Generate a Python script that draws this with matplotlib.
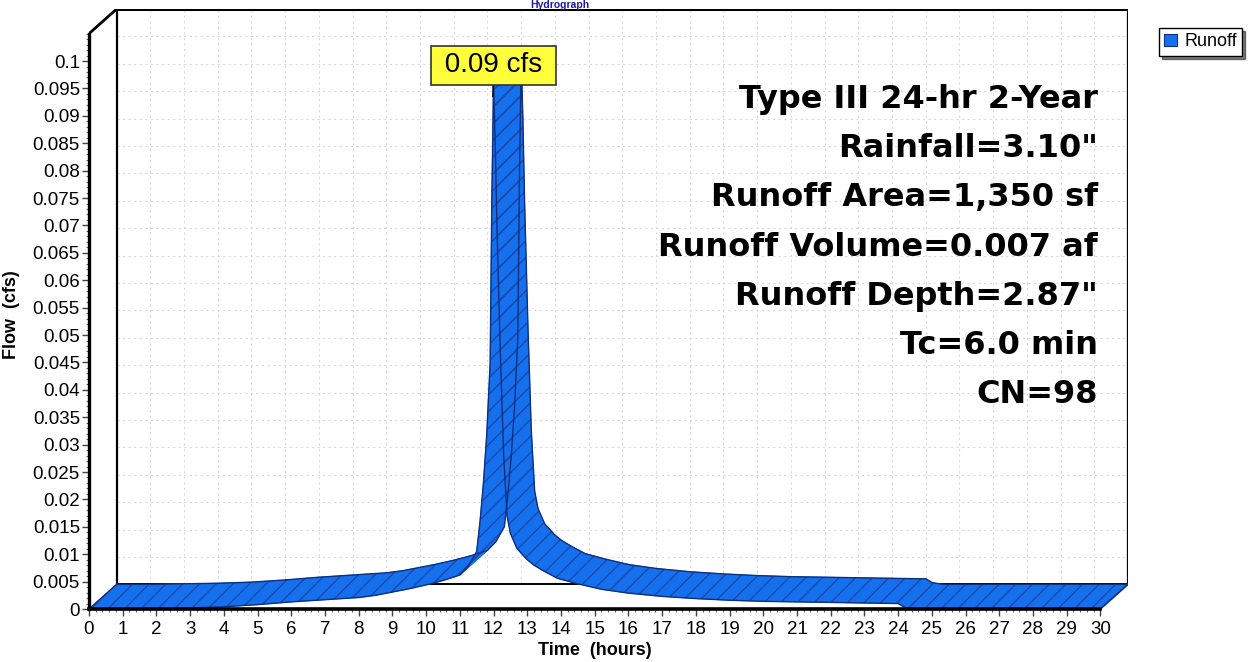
import numpy as np
import matplotlib
matplotlib.use("Agg")
import matplotlib.pyplot as plt
from matplotlib.collections import PolyCollection
from matplotlib.patches import Patch
from matplotlib.ticker import FixedLocator, FixedFormatter

# hydrograph (hours, cfs)
time_hr = [0, 1, 2, 3, 4, 5, 6, 7, 8, 8.5, 9, 9.5, 10, 10.5, 11, 11.25, 11.5,
           11.6, 11.7, 11.8, 11.9, 11.95, 12.0, 12.05, 12.1, 12.2, 12.3, 12.4,
           12.5, 12.7, 13.0, 13.2, 13.5, 13.9, 14.5, 15.2, 16, 17, 18, 19, 20,
           21, 22, 23, 24, 24.2, 24.5, 25, 26, 27, 28, 29, 30]
flow_cfs = [0, 0, 0.0001, 0.0002, 0.0004, 0.0008, 0.0013, 0.0017, 0.0021,
            0.0025, 0.0031, 0.0037, 0.0044, 0.0052, 0.0062, 0.0078, 0.0105,
            0.016, 0.023, 0.032, 0.045, 0.075, 0.096, 0.085, 0.070, 0.047,
            0.028, 0.0170, 0.0138, 0.0110, 0.0090, 0.0080, 0.0069, 0.0056,
            0.0046, 0.0036, 0.0029, 0.0023, 0.0019, 0.0016, 0.0014, 0.0013,
            0.0012, 0.0011, 0.0010, 0.0003, 0, 0, 0, 0, 0, 0, 0]

x_ticks = list(range(0, 31))
y_ticks = [0, 0.005, 0.01, 0.015, 0.02, 0.025, 0.03, 0.035, 0.04, 0.045, 0.05,
           0.055, 0.06, 0.065, 0.07, 0.075, 0.08, 0.085, 0.09, 0.095, 0.1]
y_tick_labels = ["0", "0.005", "0.01", "0.015", "0.02", "0.025", "0.03",
                 "0.035", "0.04", "0.045", "0.05", "0.055", "0.06", "0.065",
                 "0.07", "0.075", "0.08", "0.085", "0.09", "0.095", "0.1"]

peak_label = "0.09 cfs"
peak_time = 12.0
info_lines = ["Type III 24-hr 2-Year", 'Rainfall=3.10"', "Runoff Area=1,350 sf",
              "Runoff Volume=0.007 af", 'Runoff Depth=2.87"', "Tc=6.0 min",
              "CN=98"]

BLUE = "#1570ee"
HATCH = "#1c47a8"
EDGE = "#0e2f80"
DX, DY = 0.82, 0.0045      # fake 3d depth offset
XMAX, YMAX = 30, 0.105

plt.rcParams["hatch.linewidth"] = 1.0

fig = plt.figure(figsize=(12.54, 6.62), dpi=100)
ax = fig.add_axes([89 / 1254, 53 / 662, 1039 / 1254, 600 / 662])
ax.set_xlim(0, XMAX + DX)
ax.set_ylim(0, YMAX + DY)
ax.patch.set_alpha(0)

# back wall + grid
for h in x_ticks[1:]:
    ax.plot([h + DX, h + DX], [DY, YMAX + DY], color="#dadada", lw=0.8,
            ls=(0, (2, 3)), zorder=0.5)
for v in y_ticks[1:]:
    ax.plot([DX, XMAX + DX], [v + DY, v + DY], color="#dadada", lw=0.8,
            ls=(0, (2, 3)), zorder=0.5)
ax.plot([DX, XMAX + DX], [YMAX + DY, YMAX + DY], color="k", lw=2.2, zorder=1.5)
ax.plot([DX, DX], [DY, YMAX + DY], color="k", lw=1.6, zorder=1.5)
ax.plot([XMAX + DX, XMAX + DX], [DY, YMAX + DY], color="k", lw=1.6, zorder=1.5)
ax.plot([DX, XMAX + DX], [DY, DY], color="k", lw=1.4, zorder=1.5)
ax.plot([0, DX], [YMAX, YMAX + DY], color="k", lw=2.0, zorder=1.5)

# ribbon
t = np.array(time_hr)
f = np.array(flow_cfs)
quads = []
for i in range(len(t) - 1):
    quads.append([(t[i], f[i]), (t[i + 1], f[i + 1]),
                  (t[i + 1] + DX, f[i + 1] + DY), (t[i] + DX, f[i] + DY)])
ax.add_collection(PolyCollection(quads, facecolors=BLUE, edgecolors=BLUE,
                                 linewidths=0.6, zorder=2))
ax.add_collection(PolyCollection(quads, facecolors="none", edgecolors=HATCH,
                                 linewidths=0, hatch="//", zorder=2.1))
ax.plot(t, f, color=EDGE, lw=1, zorder=2.2)
ax.plot(t + DX, f + DY, color=EDGE, lw=1, zorder=2.2)
ax.plot([t[0], t[0] + DX], [f[0], f[0] + DY], color=EDGE, lw=1, zorder=2.2)
ax.plot([t[-1], t[-1] + DX], [f[-1], f[-1] + DY], color=EDGE, lw=1.2, zorder=2.2)

# axes
for s in ["top", "right"]:
    ax.spines[s].set_visible(False)
ax.spines["left"].set_bounds(0, YMAX)
ax.spines["bottom"].set_bounds(0, XMAX)
ax.spines["left"].set_linewidth(2.4)
ax.spines["bottom"].set_linewidth(2.6)
ax.xaxis.set_major_locator(FixedLocator(x_ticks))
ax.xaxis.set_minor_locator(FixedLocator(np.arange(0, 30.01, 0.2)))
ax.yaxis.set_major_locator(FixedLocator(y_ticks))
ax.yaxis.set_major_formatter(FixedFormatter(y_tick_labels))
ax.yaxis.set_minor_locator(FixedLocator(np.arange(0, 0.1051, 0.001)))
ax.tick_params(which="major", length=5, width=1, color="#444444", pad=1.5,
               labelsize=13.5)
ax.tick_params(which="minor", length=2.5, width=0.8, color="#666666")
ax.tick_params(axis="x", pad=3.5)
for lab in ax.get_xticklabels() + ax.get_yticklabels():
    lab.set_family("Liberation Sans")

ax.set_xlabel("Time  (hours)", family="Liberation Sans", weight="bold",
              fontsize=13)
ax.set_ylabel("Flow  (cfs)", family="Liberation Sans", weight="bold",
              fontsize=13)
ax.xaxis.set_label_coords(0.487, -0.055)
ax.yaxis.set_label_coords(-0.066, 0.49)

# peak callout
ax.annotate(" " + peak_label + " ", xy=(peak_time - 0.02, 0.0935),
            xytext=(peak_time, 0.0992), ha="center", va="center",
            fontsize=20, family="Liberation Sans", zorder=5,
            bbox=dict(boxstyle="square,pad=0.22", fc="#ffff3c", ec="#333333",
                      lw=1.2),
            arrowprops=dict(arrowstyle="-", color="k", lw=1, shrinkA=0,
                            shrinkB=0))

# storm info block
for i, line in enumerate(info_lines):
    fig.text(1098 / 1254, 1 - (108 + 49.2 * i) / 662, line, ha="right",
             va="baseline", fontsize=23, weight="bold", family="DejaVu Sans")

# title, squeezed into the strip above the frame
fig.text(560 / 1254, 1.0, "Hydrograph", ha="center", va="top",
         fontsize=7.5, weight="bold", color="#1a1aa8", family="Liberation Sans")

fig.legend(handles=[Patch(fc=BLUE, ec=EDGE, lw=0.8)], labels=["Runoff"],
           loc="upper left", bbox_to_anchor=(1159 / 1254, 1 - 28 / 662),
           prop={"family": "Liberation Sans", "size": 13}, fancybox=False,
           edgecolor="black", framealpha=1, shadow={"color": "black"},
           borderpad=0.3, handlelength=0.7, handleheight=0.7,
           handletextpad=0.4, borderaxespad=0)

fig.savefig("out.png", dpi=100)
